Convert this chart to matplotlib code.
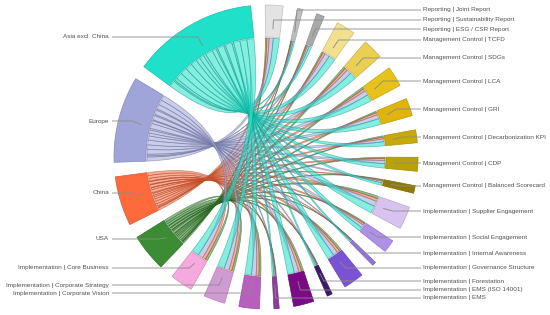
import numpy as np
import matplotlib.pyplot as plt
from matplotlib.path import Path
from matplotlib.patches import PathPatch, Polygon

plt.rcParams['font.family'] = ['Liberation Sans', 'DejaVu Sans']

# Regions (sources)
regions = ["Asia excl. China", "Europe", "China", "USA"]
region_colors = ["#1fe0c9", "#9fa4d9", "#ff6a3d", "#3b8c32"]

# Categories (targets), clockwise from the top
categories = [
    "Reporting | Sustainability Report",
    "Reporting | Joint Report",
    "Reporting | ESG / CSR Report",
    "Management Control | TCFD",
    "Management Control | SDGs",
    "Management Control | LCA",
    "Management Control | GRI",
    "Management Control | Decarbonization KPI",
    "Management Control | CDP",
    "Management Control | Balanced Scorecard",
    "Implementation | Supplier Engagement",
    "Implementation | Social Engagement",
    "Implementation | Internal Awareness",
    "Implementation | Governance Structure",
    "Implementation | Forestation",
    "Implementation | EMS (ISO 14001)",
    "Implementation | EMS",
    "Implementation | Corporate Vision",
    "Implementation | Corporate Strategy",
    "Implementation | Core Business",
]
category_colors = [
    "#e3e3e3", "#bebebe", "#a9a9a9",
    "#f2e08f", "#ebcf55", "#e6c21a", "#e0b40c", "#c8a80a", "#b8a20a", "#8e7b07",
    "#d8c3f0", "#ae90e6", "#8f74d9", "#7c52d4", "#3c1a68", "#7a0a85", "#8a3c9c",
    "#b85fbd", "#d09bd3", "#f6a9dc",
]

# Flow values, one list per region (same order as categories)
asia = [3.0, 0.7, 1.2, 3.2, 3.3, 3.3, 3.0, 2.0, 2.2, 1.2,
        3.6, 2.0, 0.7, 3.3, 0.8, 3.3, 0.8, 3.2, 3.4, 3.5]
europe = [2.0, 0.6, 0.8, 2.3, 2.2, 2.3, 2.0, 1.4, 1.5, 0.8,
          2.5, 1.4, 0.4, 2.2, 0.6, 2.2, 0.6, 2.3, 2.4, 2.5]
china = [1.1, 0.4, 0.6, 1.1, 1.3, 1.2, 1.1, 0.8, 0.9, 0.5,
         1.4, 0.9, 0.2, 1.3, 0.3, 1.3, 0.3, 1.3, 1.4, 1.5]
usa = [0.7, 0.3, 0.4, 0.7, 1.0, 1.0, 0.7, 0.7, 0.7, 0.4,
       1.2, 0.6, 0.2, 1.0, 0.3, 1.0, 0.3, 1.0, 1.0, 1.2]

# Label layout (pixel rows of the labels)
category_label_y = [20, 10, 29, 40, 58, 81, 109, 137, 163, 186,
                    211, 237, 253, 268, 281, 290, 298, 293, 285, 268]
category_label_left = [False] * 17 + [True, True, True]
region_label_y = [37, 121, 193, 239]

CX, CY = 266, 157
R_IN, R_OUT = 120, 152
PAD = 5.5
START = -0.3
RIGHT_X, LEFT_X = 423, 109

M = np.array([asia, europe, china, usa])
n_cat = len(categories)

# nodes around the circle: categories, then USA, China, Europe, Asia
order = [("c", j) for j in range(n_cat)] + [("r", i) for i in (3, 2, 1, 0)]
scale = (360 - PAD * len(order)) / (2 * M.sum())


def pt(theta, r):
    t = np.radians(theta)
    return CX + r * np.sin(t), CY - r * np.cos(t)


def arc(a0, a1, r, n=16):
    return [pt(a, r) for a in np.linspace(a0, a1, n)]


node_span = {}
sub = {}
angle = START
for kind, k in order:
    s = angle
    if kind == "c":
        for i in (3, 2, 1, 0):
            w = M[i, k] * scale
            sub[("c", i, k)] = (angle, angle + w)
            angle += w
    else:
        for j in range(n_cat):
            w = M[k, j] * scale
            sub[("r", k, j)] = (angle, angle + w)
            angle += w
    node_span[(kind, k)] = (s, angle)
    angle += PAD


def darker(c, f=0.65):
    rgb = np.array(plt.matplotlib.colors.to_rgb(c))
    return tuple(rgb * f)


fig = plt.figure(figsize=(5.5, 3.15), dpi=100)
ax = fig.add_axes([0, 0, 1, 1])
ax.set_xlim(0, 550)
ax.set_ylim(315, 0)
ax.axis("off")

# ribbons
r_rib = R_IN - 1
for i in (3, 2, 1, 0):
    for j in range(n_cat):
        if M[i, j] <= 0:
            continue
        a0, a1 = sub[("r", i, j)]
        b0, b1 = sub[("c", i, j)]
        sa = arc(a0, a1, r_rib)
        tb = arc(b0, b1, r_rib)
        verts = sa + [(CX, CY), tb[0]] + tb[1:] + [(CX, CY), sa[0], sa[0]]
        codes = ([Path.MOVETO] + [Path.LINETO] * (len(sa) - 1)
                 + [Path.CURVE3, Path.CURVE3] + [Path.LINETO] * (len(tb) - 1)
                 + [Path.CURVE3, Path.CURVE3, Path.CLOSEPOLY])
        ax.add_patch(PathPatch(Path(verts, codes), facecolor=region_colors[i],
                               alpha=0.55, edgecolor=darker(region_colors[i]),
                               lw=0.5, zorder=2))

# node blocks, leader lines, labels
for kind, k in order:
    s, e = node_span[(kind, k)]
    if kind == "c":
        color = category_colors[k]
        label = categories[k]
        ly = category_label_y[k]
        left = category_label_left[k]
    else:
        color = region_colors[k]
        label = regions[k]
        ly = region_label_y[k]
        left = True
    poly = arc(s, e, R_OUT) + arc(e, s, R_IN)
    ax.add_patch(Polygon(poly, closed=True, facecolor=color,
                         edgecolor=darker(color, 0.85), lw=0.5, zorder=3))
    mid = (s + e) / 2
    p0 = pt(mid, 128)
    x1 = pt(mid, 138)[0]
    xe = LEFT_X + 3 if left else RIGHT_X - 2
    ax.plot([p0[0], x1, xe], [p0[1], ly, ly], color="#8a8a8a", lw=0.6,
            zorder=4, solid_capstyle="butt")
    if left:
        ax.text(LEFT_X, ly, label, ha="right", va="center", fontsize=4.6,
                color="#505050")
    else:
        ax.text(RIGHT_X, ly, label, ha="left", va="center", fontsize=4.6,
                color="#505050")

fig.savefig("out.png", dpi=100)
